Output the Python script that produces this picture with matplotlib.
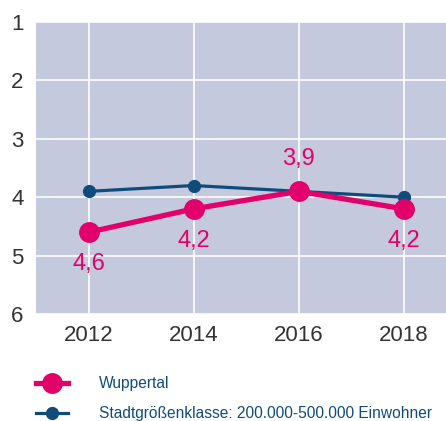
import matplotlib
matplotlib.use("Agg")
import matplotlib.pyplot as plt

years = [2012, 2014, 2016, 2018]
wuppertal = [4.6, 4.2, 3.9, 4.2]
stadtklasse = [3.9, 3.8, 3.9, 4.0]
label_pos = ["below", "below", "above", "below"]
yticks = [1, 2, 3, 4, 5, 6]
series_names = ["Wuppertal", "Stadtgrößenklasse: 200.000-500.000 Einwohner"]

plt.rcParams['font.family'] = ['Liberation Sans', 'DejaVu Sans']

MAG = "#e2006a"
BLUE = "#0f4c7c"
BG = "#c5c9dd"

fig = plt.figure(figsize=(4.46, 4.21), dpi=100)
ax = fig.add_axes([36/446, 107/421, 410/446, 292/421])
ax.set_facecolor(BG)

l2, = ax.plot(years, stadtklasse, color=BLUE, lw=2.3, marker='o', ms=8.5, zorder=3)
l1, = ax.plot(years, wuppertal, color=MAG, lw=3.8, marker='o', ms=14, zorder=4)

for x, v, p in zip(years, wuppertal, label_pos):
    off = -23 if p == "below" else 23
    ax.annotate(f"{v:.1f}".replace(".", ","), (x, v), xytext=(0, off),
                textcoords='offset points', ha='center', va='center',
                color=MAG, fontsize=17)

ax.set_xlim(2011.0, 2018.8)
ax.set_ylim(6, 1)
ax.set_xticks(years)
ax.set_yticks(yticks)
ax.set_xticklabels([str(y) for y in years])
ax.tick_params(length=0, labelsize=16, labelcolor="#333333")
ax.tick_params(axis='x', pad=8)
ax.tick_params(axis='y', pad=18)
for lab in ax.get_yticklabels():
    lab.set_ha('left')
ax.grid(True, color='white', lw=1.2)
ax.set_axisbelow(True)
for s in ax.spines.values():
    s.set_visible(False)

leg = fig.legend([l1, l2], series_names, loc='upper left',
                 bbox_to_anchor=(29.5/446, 1 - 370/421), frameon=False,
                 fontsize=11.2, handlelength=2.05, handletextpad=2.0,
                 labelspacing=0.95, borderaxespad=0)
for t in leg.get_texts():
    t.set_color(BLUE)

fig.savefig("out.png", dpi=100, facecolor='white')
